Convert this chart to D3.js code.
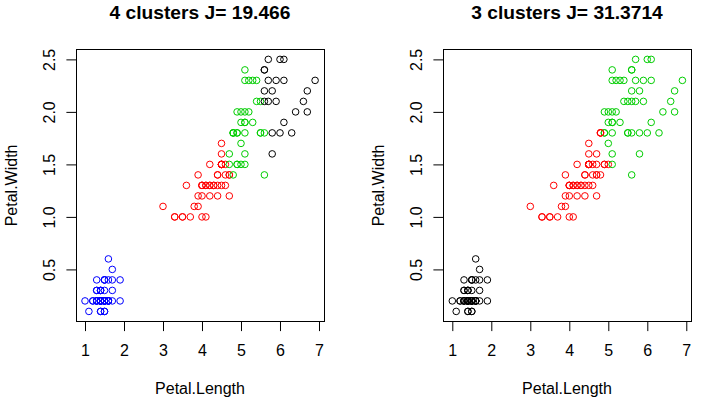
<!DOCTYPE html>
<html><head><meta charset="utf-8">
<script src="https://cdn.jsdelivr.net/npm/d3@7/dist/d3.min.js"></script>
<style>body{margin:0;background:#fff} svg{display:block} text{font-family:"Liberation Sans",Arial,sans-serif;fill:#000}</style>
</head><body>
<svg id="c" width="701" height="405"></svg>
<script>
const petalLength = [
1.4,1.4,1.3,1.5,1.4,1.7,1.4,1.5,1.4,1.5,
1.5,1.6,1.4,1.1,1.2,1.5,1.3,1.4,1.7,1.5,
1.7,1.5,1.0,1.7,1.9,1.6,1.6,1.5,1.4,1.6,
1.6,1.5,1.5,1.4,1.5,1.2,1.3,1.4,1.3,1.5,
1.3,1.3,1.3,1.6,1.9,1.4,1.6,1.4,1.5,1.4,
4.7,4.5,4.9,4.0,4.6,4.5,4.7,3.3,4.6,3.9,
3.5,4.2,4.0,4.7,3.6,4.4,4.5,4.1,4.5,3.9,
4.8,4.0,4.9,4.7,4.3,4.4,4.8,5.0,4.5,3.5,
3.8,3.7,3.9,5.1,4.5,4.5,4.7,4.4,4.1,4.0,
4.4,4.6,4.0,3.3,4.2,4.2,4.2,4.3,3.0,4.1,
6.0,5.1,5.9,5.6,5.8,6.6,4.5,6.3,5.8,6.1,
5.1,5.3,5.5,5.0,5.1,5.3,5.5,6.7,6.9,5.0,
5.7,4.9,6.7,4.9,5.7,6.0,4.8,4.9,5.6,5.8,
6.1,6.4,5.6,5.1,5.6,6.1,5.6,5.5,4.8,5.4,
5.6,5.1,5.1,5.9,5.7,5.2,5.0,5.2,5.4,5.1];
const petalWidth = [
0.2,0.2,0.2,0.2,0.2,0.4,0.3,0.2,0.2,0.1,
0.2,0.2,0.1,0.1,0.2,0.4,0.4,0.3,0.3,0.3,
0.2,0.4,0.2,0.5,0.2,0.2,0.4,0.2,0.2,0.2,
0.2,0.4,0.1,0.2,0.2,0.2,0.2,0.1,0.2,0.2,
0.3,0.3,0.2,0.6,0.4,0.3,0.2,0.2,0.2,0.2,
1.4,1.5,1.5,1.3,1.5,1.3,1.6,1.0,1.3,1.4,
1.0,1.5,1.0,1.4,1.3,1.4,1.5,1.0,1.5,1.1,
1.8,1.3,1.5,1.2,1.3,1.4,1.4,1.7,1.5,1.0,
1.1,1.0,1.2,1.6,1.5,1.6,1.5,1.3,1.3,1.3,
1.2,1.4,1.2,1.0,1.3,1.2,1.3,1.3,1.1,1.3,
2.5,1.9,2.1,1.8,2.2,2.1,1.7,1.8,1.8,2.5,
2.0,1.9,2.1,2.0,2.4,2.3,1.8,2.2,2.3,1.5,
2.3,2.0,2.0,1.8,2.1,1.8,1.8,1.8,2.1,1.6,
1.9,2.0,2.2,1.5,1.4,2.3,2.4,1.8,1.8,2.1,
2.4,2.3,1.9,2.3,2.5,2.3,1.9,2.0,2.3,1.8];
const cluster4 = [
4,4,4,4,4,4,4,4,4,4,
4,4,4,4,4,4,4,4,4,4,
4,4,4,4,4,4,4,4,4,4,
4,4,4,4,4,4,4,4,4,4,
4,4,4,4,4,4,4,4,4,4,
2,2,3,2,2,2,3,2,2,2,
2,2,2,2,2,2,2,2,2,2,
3,2,3,2,2,2,3,3,2,2,
2,2,2,3,2,2,3,2,2,2,
2,2,2,2,2,2,2,2,2,2,
1,3,1,3,1,1,2,1,1,1,
3,3,3,3,3,3,3,1,1,3,
1,3,1,3,1,1,3,3,1,1,
1,1,1,3,3,1,1,3,3,3,
1,3,3,1,1,3,3,3,3,3];
const cluster3 = [
1,1,1,1,1,1,1,1,1,1,
1,1,1,1,1,1,1,1,1,1,
1,1,1,1,1,1,1,1,1,1,
1,1,1,1,1,1,1,1,1,1,
1,1,1,1,1,1,1,1,1,1,
2,2,2,2,2,2,2,2,2,2,
2,2,2,2,2,2,2,2,2,2,
2,2,2,2,2,2,2,3,2,2,
2,2,2,3,2,2,2,2,2,2,
2,2,2,2,2,2,2,2,2,2,
3,3,3,3,3,3,2,3,3,3,
3,3,3,3,3,3,3,3,3,2,
3,3,3,3,3,3,2,3,3,3,
3,3,3,3,3,3,3,3,2,3,
3,3,3,3,3,3,3,3,3,3];
const titles = ["4 clusters J= 19.466", "3 clusters J= 31.3714"];
const xTicks = [1,2,3,4,5,6,7];
const yTicks = [0.5,1.0,1.5,2.0,2.5];
const yTickLabels = ["0.5","1.0","1.5","2.0","2.5"];
const palette = ["#000000","#FF0000","#00CD00","#0000FF"];
const xLabel = "Petal.Length", yLabel = "Petal.Width";

const svg = d3.select("#c");
const panels = [
  {clusters: cluster4, title: titles[0], left: 75.8, right: 324.3, box: 76},
  {clusters: cluster3, title: titles[1], left: 443.1, right: 691.6, box: 443}
];
const xe = d3.extent(petalLength), ye = d3.extent(petalWidth);
const xpad = (xe[1]-xe[0])*0.04, ypad = (ye[1]-ye[0])*0.04;
const plotTop = 49.3, plotBottom = 321.5;

panels.forEach(p => {
  const x = d3.scaleLinear().domain([xe[0]-xpad, xe[1]+xpad]).range([p.left, p.right]);
  const y = d3.scaleLinear().domain([ye[0]-ypad, ye[1]+ypad]).range([plotBottom, plotTop]);
  const g = svg.append("g");
  const cx = (p.box + 248/2);

  g.append("g").selectAll("circle").data(petalLength.map((l,i)=>({l, w: petalWidth[i], c: p.clusters[i]})))
    .join("circle")
    .attr("cx", d => x(d.l)).attr("cy", d => y(d.w)).attr("r", 3.3)
    .attr("fill", "none").attr("stroke", d => palette[d.c-1]).attr("stroke-width", 1);

  g.append("rect").attr("x", p.box+0.5).attr("y", 49.5).attr("width", 248).attr("height", 272)
    .attr("fill", "none").attr("stroke", "#000").attr("stroke-width", 1);

  const ax = g.append("g").attr("transform", `translate(0,${plotBottom})`)
    .call(d3.axisBottom(x).tickValues(xTicks).tickFormat(d3.format("d")).tickSize(9.6));
  ax.select(".domain").remove();
  ax.selectAll("line").attr("stroke", "#000");
  ax.selectAll("text").attr("y", 34.5).attr("dy", null).attr("font-size", 16)
    .attr("font-family", "Liberation Sans, Arial, sans-serif").attr("fill", "#000");

  const ay = g.append("g").attr("transform", `translate(${p.box},0)`)
    .call(d3.axisLeft(y).tickValues(yTicks).tickFormat((d,i)=>yTickLabels[i]).tickSize(9.6));
  ay.select(".domain").remove();
  ay.selectAll("line").attr("stroke", "#000");
  ay.selectAll("text").attr("x", null).attr("dy", null).attr("text-anchor", "middle")
    .attr("transform", "translate(-21,0) rotate(-90)").attr("font-size", 16)
    .attr("font-family", "Liberation Sans, Arial, sans-serif").attr("fill", "#000");

  g.append("text").attr("x", cx).attr("y", 394).attr("text-anchor", "middle")
    .attr("font-size", 16).text(xLabel);
  g.append("text").attr("transform", `translate(${p.box-59.5},${(plotTop+plotBottom)/2}) rotate(-90)`)
    .attr("text-anchor", "middle").attr("font-size", 16).text(yLabel);
  g.append("text").attr("x", cx).attr("y", 19).attr("text-anchor", "middle")
    .attr("font-size", 19.2).attr("font-weight", "bold").text(p.title);
});
</script>
</body></html>
